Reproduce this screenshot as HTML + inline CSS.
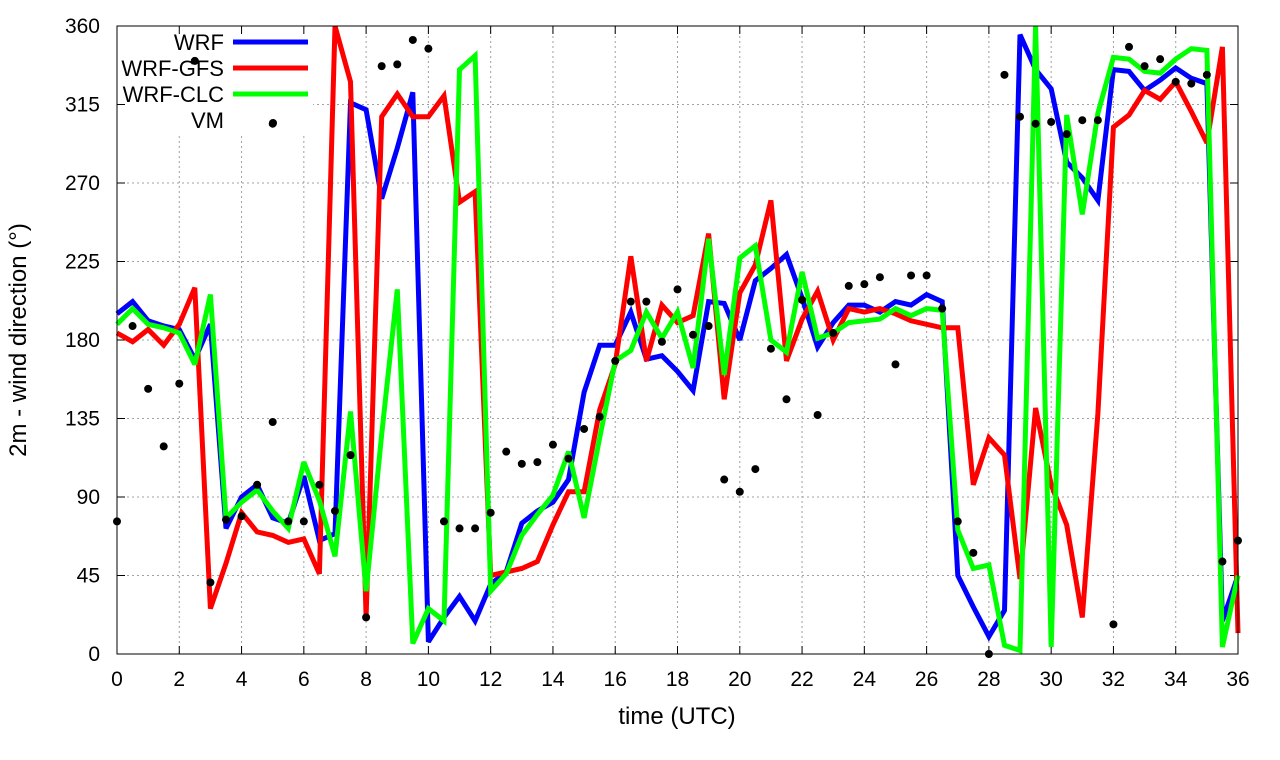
<!DOCTYPE html>
<html><head><meta charset="utf-8"><style>
html,body{margin:0;padding:0;background:#fff;}
svg{display:block;font-family:"Liberation Sans",sans-serif;}
</style></head><body>
<svg id="chart" width="1280" height="760"></svg>
<script>
const times = [];
for (let i = 0; i <= 72; i++) times.push(i * 0.5);
const wrf = [195,202,191,188,186,169,189,72,90,97,78,75,102,65,69,316,312,261,290,322,7,21,33,19,40,47,75,82,87,100,150,177,177,196,169,171,162,151,202,201,180,214,221,229,204,176,190,200,200,196,202,200,206,202,45,27,10,25,355,335,324,282,273,260,335,334,323,329,336,330,327,19,45];
const wrfGfs = [184,179,186,177,189,210,26,52,81,70,68,64,66,46,360,328,21,308,321,308,308,320,259,265,45,47,49,53,74,93,93,140,166,228,168,200,190,194,241,146,207,223,260,168,192,208,180,198,196,198,195,191,189,187,187,97,124,114,43,141,97,74,21,138,302,309,323,318,328,311,293,348,12];
const wrfClc = [189,198,189,187,184,166,206,78,87,94,82,72,110,88,56,139,36,126,209,6,26,19,335,343,36,46,68,80,91,116,78,124,168,174,196,181,196,164,238,160,227,234,180,173,219,181,184,190,191,192,198,194,198,197,71,49,51,5,2,360,4,309,252,310,342,341,334,333,341,347,346,4,45];
const vmTimes = [0,0.5,1,1.5,2,2.5,3,3.5,4,4.5,5,5,5.5,6,6.5,7,7.5,8,8.5,9,9.5,10,10.5,11,11.5,12,12.5,13,13.5,14,14.5,15,15.5,16,16.5,17,17.5,18,18.5,19,19.5,20,20.5,21,21.5,22,22.5,23,23.5,24,24.5,25,25.5,26,26.5,27,27.5,28,28.5,29,29.5,30,30.5,31,31.5,32,32.5,33,33.5,34,34.5,35,35.5,36];
const vmValues = [76,188,152,119,155,340,41,77,79,97,133,304,76,76,97,82,114,21,337,338,352,347,76,72,72,81,116,109,110,120,112,129,136,168,202,202,179,209,183,188,100,93,106,175,146,203,137,184,211,212,216,166,217,217,198,76,58,0,332,308,304,305,298,306,306,17,348,337,341,328,327,332,53,65];
const xTicks = [0,2,4,6,8,10,12,14,16,18,20,22,24,26,28,30,32,34,36];
const yTicks = [0,45,90,135,180,225,270,315,360];

const L=117,R=1238,T=26,B=654;
const xs = t => L + (t/36)*(R-L);
const ys = v => B - (v/360)*(B-T);
const svg = document.getElementById('chart');
const NS='http://www.w3.org/2000/svg';
function mk(tag, attrs, parent){const e=document.createElementNS(NS,tag);for(const k in attrs)e.setAttribute(k,attrs[k]);(parent||svg).appendChild(e);return e;}

const grid = mk('g',{});


xTicks.forEach(t=>{ if(t>0&&t<36){const l=mk('line',{x1:xs(t),x2:xs(t),y1:T,y2:B,stroke:'#a0a0a0','stroke-width':1,'stroke-dasharray':'2,3'},grid);}});
yTicks.forEach(v=>{ if(v>0&&v<360){const l=mk('line',{x1:L,x2:R,y1:ys(v),y2:ys(v),stroke:'#a0a0a0','stroke-width':1,'stroke-dasharray':'2,3'},grid);}});

const lbg = mk('rect',{x:L+1,y:T+1,width:195,height:108,fill:'#fff'});



const ticks = mk('g',{stroke:'#000','stroke-width':1});


xTicks.forEach(t=>{
  mk('line',{x1:xs(t),x2:xs(t),y1:B,y2:B-8},ticks);
  mk('line',{x1:xs(t),x2:xs(t),y1:T,y2:T+8},ticks);
  const tx=mk('text',{x:xs(t),y:B+32,'text-anchor':'middle','font-size':21,fill:'#000',stroke:'none'});
  tx.textContent=t;
  
  
});
yTicks.forEach(v=>{
  mk('line',{x1:L,x2:L+8,y1:ys(v),y2:ys(v)},ticks);
  mk('line',{x1:R,x2:R-8,y1:ys(v),y2:ys(v)},ticks);
  const tx=mk('text',{x:L-17,y:ys(v)+7,'text-anchor':'end','font-size':21,fill:'#000',stroke:'none'});
  tx.textContent=v;
  
  
});

function series(vals,color,name){
  const d=vals.map((v,i)=>(i?'L':'M')+xs(times[i]).toFixed(1)+','+ys(v).toFixed(1)).join('');
  const p=mk('path',{d:d,fill:'none',stroke:color,'stroke-width':5,'stroke-linejoin':'miter','stroke-miterlimit':3});
  
  
}
series(wrf,'#0000ff','wrf-line');
series(wrfGfs,'#ff0000','wrf-gfs-line');
series(wrfClc,'#00ff00','wrf-clc-line');

const dots = mk('g',{});


vmValues.forEach((v,i)=>{
  const c=mk('circle',{cx:xs(vmTimes[i]),cy:ys(v),r:4,fill:'#000'},dots);
  
  
});

const frame=mk('rect',{x:L,y:T,width:R-L,height:B-T,fill:'none',stroke:'#000','stroke-width':1});



const leg=[['WRF','#0000ff'],['WRF-GFS','#ff0000'],['WRF-CLC','#00ff00']];
leg.forEach((e,i)=>{
  const y=42+i*26;
  const t=mk('text',{x:224,y:y+8,'text-anchor':'end','font-size':22,fill:'#000'});
  t.textContent=e[0];
  
  
  const l=mk('line',{x1:233,x2:308,y1:y,y2:y,stroke:e[1],'stroke-width':5});
  
  
});
const vt=mk('text',{x:224,y:128,'text-anchor':'end','font-size':22,fill:'#000'});
vt.textContent='VM';


const vd=mk('circle',{cx:273,cy:123,r:4,fill:'#000'});



const xt=mk('text',{x:677,y:724,'text-anchor':'middle','font-size':24,fill:'#000'});
xt.textContent='time (UTC)';


const yt=mk('text',{x:0,y:0,'text-anchor':'middle','font-size':24,fill:'#000',transform:'translate(26,340) rotate(-90)'});
yt.textContent='2m - wind direction (°)';


</script>
</body></html>
